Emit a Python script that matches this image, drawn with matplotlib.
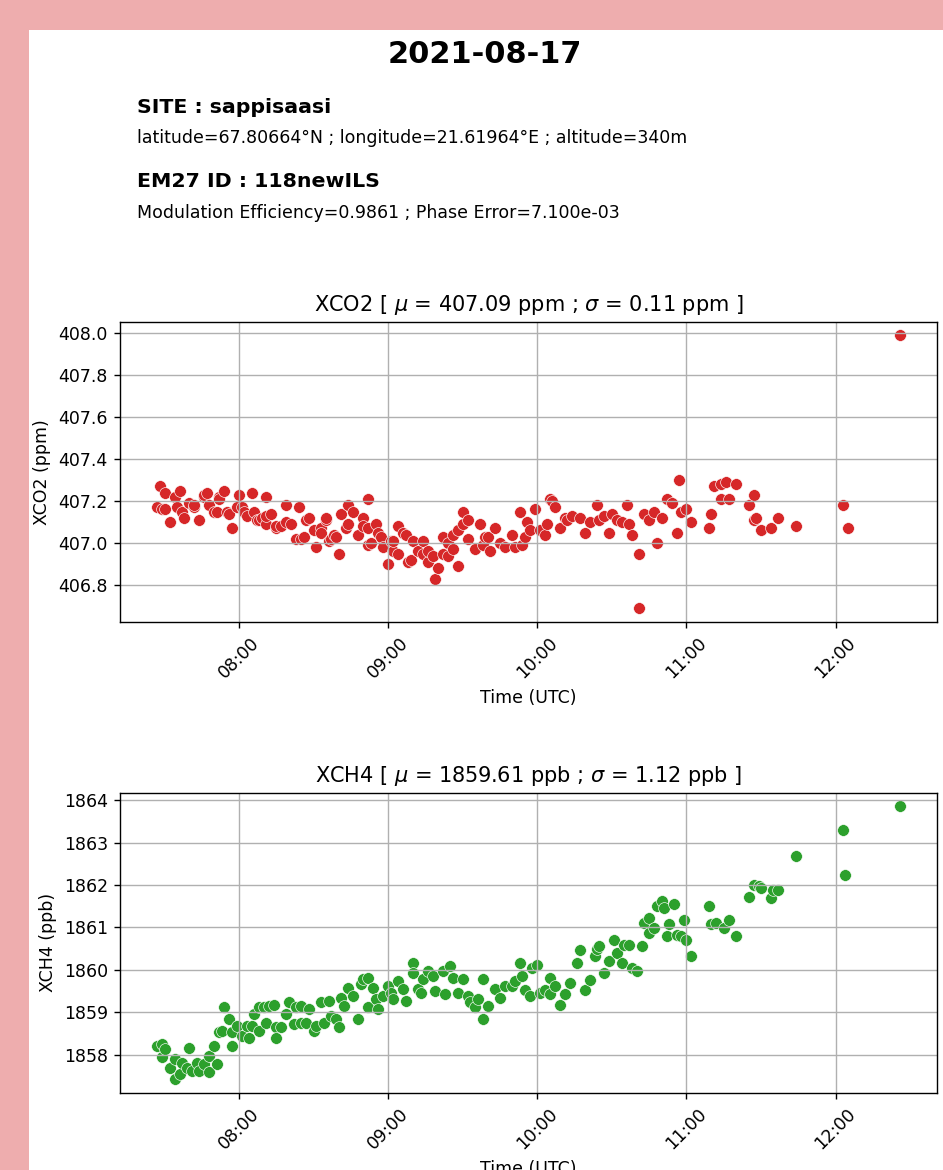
import matplotlib
matplotlib.use("Agg")
import matplotlib.dates as mdates
import matplotlib.pyplot as plt
import pandas as pd
from matplotlib.patches import Rectangle

DAY = "2021-08-17"
SITE = "sappisaasi"
SITE_INFO = "latitude=67.80664°N ; longitude=21.61964°E ; altitude=340m"
EM27_ID = "118newILS"
EM27_INFO = "Modulation Efficiency=0.9861 ; Phase Error=7.100e-03"

co2_title = r"XCO2 [ $\mu$ = 407.09 ppm ; $\sigma$ = 0.11 ppm ]"
ch4_title = r"XCH4 [ $\mu$ = 1859.61 ppb ; $\sigma$ = 1.12 ppb ]"

# XCO2 retrievals (UTC time, ppm)
co2_time = [
    "07:27", "07:28", "07:29", "07:30", "07:30", "07:32", "07:34", "07:35", "07:36", "07:37",
    "07:38", "07:40", "07:42", "07:42", "07:44", "07:46", "07:46", "07:47", "07:48", "07:50",
    "07:51", "07:52", "07:52", "07:54", "07:55", "07:56", "07:57", "07:59", "08:00", "08:01",
    "08:02", "08:03", "08:05", "08:06", "08:07", "08:08", "08:09", "08:11", "08:11", "08:11",
    "08:13", "08:15", "08:15", "08:17", "08:19", "08:19", "08:21", "08:23", "08:24", "08:25",
    "08:26", "08:27", "08:28", "08:30", "08:31", "08:33", "08:33", "08:35", "08:35", "08:36",
    "08:37", "08:38", "08:39", "08:40", "08:41", "08:43", "08:44", "08:44", "08:46", "08:48",
    "08:50", "08:50", "08:52", "08:52", "08:52", "08:53", "08:55", "08:56", "08:57", "08:58",
    "09:00", "09:01", "09:02", "09:02", "09:04", "09:04", "09:06", "09:07", "09:08", "09:09",
    "09:10", "09:12", "09:14", "09:14", "09:16", "09:16", "09:18", "09:19", "09:20", "09:22",
    "09:22", "09:24", "09:24", "09:26", "09:26", "09:28", "09:28", "09:30", "09:30", "09:32",
    "09:32", "09:35", "09:37", "09:38", "09:39", "09:40", "09:41", "09:43", "09:45", "09:47",
    "09:50", "09:51", "09:53", "09:54", "09:55", "09:56", "09:57", "09:59", "10:01", "10:03",
    "10:04", "10:05", "10:06", "10:07", "10:09", "10:11", "10:12", "10:14", "10:17", "10:19",
    "10:21", "10:24", "10:25", "10:27", "10:29", "10:30", "10:32", "10:34", "10:36", "10:37",
    "10:38", "10:41", "10:41", "10:43", "10:45", "10:47", "10:48", "10:50", "10:52", "10:54",
    "10:56", "10:57", "10:58", "11:00", "11:02", "11:09", "11:10", "11:11", "11:14", "11:14",
    "11:16", "11:17", "11:20", "11:25", "11:27", "11:27", "11:28", "11:30", "11:34", "11:37",
    "11:44", "12:03", "12:05", "12:26",
]
co2_val = [
    407.17, 407.27, 407.16, 407.16, 407.24, 407.10, 407.22, 407.17, 407.25, 407.15,
    407.12, 407.19, 407.17, 407.18, 407.11, 407.22, 407.23, 407.24, 407.18, 407.15,
    407.15, 407.22, 407.21, 407.25, 407.15, 407.14, 407.07, 407.17, 407.23, 407.17,
    407.15, 407.13, 407.24, 407.15, 407.11, 407.11, 407.12, 407.09, 407.22, 407.13,
    407.14, 407.07, 407.08, 407.08, 407.10, 407.18, 407.09, 407.02, 407.17, 407.02,
    407.03, 407.11, 407.12, 407.06, 406.98, 407.07, 407.05, 407.11, 407.12, 407.01,
    407.02, 407.04, 407.03, 406.95, 407.14, 407.07, 407.09, 407.18, 407.15, 407.04,
    407.12, 407.08, 407.21, 407.07, 406.99, 407.00, 407.09, 407.05, 407.03, 406.98,
    406.90, 407.01, 406.96, 407.01, 406.95, 407.08, 407.05, 407.04, 406.91, 406.92,
    407.01, 406.96, 406.95, 407.01, 406.91, 406.96, 406.94, 406.83, 406.88, 407.03,
    406.95, 406.94, 407.00, 407.04, 406.97, 407.06, 406.89, 407.09, 407.15, 407.11,
    407.02, 406.97, 407.09, 406.99, 407.03, 407.03, 406.96, 407.07, 407.00, 406.98,
    407.04, 406.98, 407.15, 406.99, 407.03, 407.10, 407.06, 407.16, 407.06, 407.04,
    407.09, 407.21, 407.20, 407.17, 407.07, 407.12, 407.11, 407.13, 407.12, 407.05,
    407.10, 407.18, 407.11, 407.13, 407.05, 407.14, 407.11, 407.10, 407.18, 407.09,
    407.04, 406.69, 406.95, 407.14, 407.11, 407.15, 407.00, 407.12, 407.21, 407.19,
    407.05, 407.30, 407.15, 407.16, 407.10, 407.07, 407.14, 407.27, 407.28, 407.21,
    407.29, 407.21, 407.28, 407.18, 407.23, 407.11, 407.12, 407.06, 407.07, 407.12,
    407.08, 407.18, 407.07, 407.99,
]

# XCH4 retrievals (UTC time, ppb)
ch4_time = [
    "07:27", "07:29", "07:29", "07:30", "07:32", "07:34", "07:34", "07:36", "07:37", "07:39",
    "07:40", "07:41", "07:43", "07:44", "07:46", "07:48", "07:48", "07:50", "07:51", "07:52",
    "07:53", "07:54", "07:56", "07:57", "07:57", "07:59", "08:01", "08:03", "08:04", "08:05",
    "08:06", "08:08", "08:08", "08:10", "08:11", "08:12", "08:14", "08:15", "08:15", "08:17",
    "08:19", "08:20", "08:22", "08:23", "08:25", "08:25", "08:27", "08:28", "08:30", "08:31",
    "08:33", "08:34", "08:36", "08:37", "08:39", "08:40", "08:41", "08:42", "08:44", "08:46",
    "08:48", "08:49", "08:50", "08:52", "08:52", "08:54", "08:55", "08:56", "08:58", "09:00",
    "09:01", "09:02", "09:04", "09:06", "09:07", "09:10", "09:10", "09:12", "09:13", "09:14",
    "09:16", "09:18", "09:19", "09:22", "09:23", "09:25", "09:26", "09:28", "09:30", "09:32",
    "09:33", "09:35", "09:36", "09:38", "09:38", "09:40", "09:43", "09:45", "09:47", "09:50",
    "09:51", "09:53", "09:54", "09:55", "09:57", "09:58", "10:00", "10:01", "10:03", "10:05",
    "10:05", "10:07", "10:09", "10:11", "10:13", "10:16", "10:17", "10:19", "10:21", "10:23",
    "10:24", "10:25", "10:27", "10:29", "10:31", "10:32", "10:34", "10:35", "10:37", "10:38",
    "10:40", "10:42", "10:43", "10:45", "10:45", "10:47", "10:48", "10:50", "10:51", "10:52",
    "10:53", "10:55", "10:56", "10:58", "10:59", "11:00", "11:02", "11:09", "11:10", "11:12",
    "11:15", "11:17", "11:20", "11:25", "11:27", "11:29", "11:30", "11:34", "11:35", "11:37",
    "11:44", "12:03", "12:04", "12:26",
]
ch4_val = [
    1858.19, 1858.24, 1857.93, 1858.13, 1857.69, 1857.89, 1857.42, 1857.54, 1857.81, 1857.69,
    1858.16, 1857.62, 1857.81, 1857.62, 1857.77, 1857.58, 1857.97, 1858.20, 1857.77, 1858.52,
    1858.56, 1859.13, 1858.83, 1858.52, 1858.19, 1858.68, 1858.44, 1858.68, 1858.40, 1858.68,
    1858.95, 1858.56, 1859.11, 1859.13, 1858.75, 1859.15, 1859.16, 1858.64, 1858.40, 1858.64,
    1858.95, 1859.23, 1858.71, 1859.11, 1858.75, 1859.15, 1858.75, 1859.07, 1858.56, 1858.68,
    1859.23, 1858.75, 1859.26, 1858.91, 1858.83, 1858.64, 1859.34, 1859.15, 1859.58, 1859.38,
    1858.83, 1859.66, 1859.78, 1859.81, 1859.11, 1859.58, 1859.30, 1859.07, 1859.38, 1859.62,
    1859.46, 1859.30, 1859.74, 1859.54, 1859.26, 1860.17, 1859.93, 1859.54, 1859.46, 1859.78,
    1859.97, 1859.85, 1859.50, 1859.97, 1859.42, 1860.09, 1859.81, 1859.46, 1859.78, 1859.38,
    1859.23, 1859.11, 1859.30, 1859.78, 1858.85, 1859.15, 1859.54, 1859.34, 1859.61, 1859.61,
    1859.73, 1860.15, 1859.85, 1859.53, 1859.39, 1860.04, 1860.12, 1859.45, 1859.53, 1859.81,
    1859.42, 1859.61, 1859.18, 1859.42, 1859.69, 1860.16, 1860.46, 1859.53, 1859.77, 1860.32,
    1860.48, 1860.56, 1859.93, 1860.20, 1860.71, 1860.40, 1860.16, 1860.59, 1860.59, 1860.04,
    1859.97, 1860.57, 1861.11, 1861.22, 1860.87, 1860.99, 1861.50, 1861.62, 1861.46, 1860.79,
    1861.07, 1861.56, 1860.83, 1860.79, 1861.18, 1860.71, 1860.33, 1861.51, 1861.07, 1861.11,
    1860.99, 1861.18, 1860.79, 1861.73, 1862.01, 1861.97, 1861.93, 1861.69, 1861.89, 1861.89,
    1862.68, 1863.29, 1862.25, 1863.86,
]

W, H, DPI = 943, 1170, 125


def px_axes(fig, left, top, right, bottom):
    # axes placed in pixel coordinates (origin top-left)
    return fig.add_axes([left / W, 1 - bottom / H, (right - left) / W, (bottom - top) / H])


def px_text(fig, x, y, s, **kw):
    fig.text(x / W, 1 - y / H, s, va="baseline", **kw)


def plot_panel(ax, times, vals, color, title, ylabel):
    t = pd.to_datetime([f"{DAY} {x}" for x in times])
    ax.scatter(t, vals, s=46, c=color, edgecolors="w", linewidths=0.35)
    ax.grid(True)
    ax.set_title(title)
    ax.set_ylabel(ylabel)
    ax.set_xlabel("Time (UTC)")
    ax.xaxis.set_major_locator(mdates.HourLocator())
    ax.xaxis.set_major_formatter(mdates.DateFormatter("%H:%M"))
    ax.tick_params(axis="x", labelrotation=45)


fig = plt.figure(figsize=(W / DPI, H / DPI), dpi=DPI, facecolor="#eeadae")
fig.add_artist(Rectangle((29 / W, 0), 1, 1 - 30 / H, transform=fig.transFigure,
                         facecolor="white", edgecolor="none", zorder=-10))

px_text(fig, 485, 63.3, DAY, ha="center", fontsize=17.5, weight="bold")
px_text(fig, 137, 113.3, f"SITE : {SITE}", fontsize=11.8, weight="bold")
px_text(fig, 137, 143.3, SITE_INFO, fontsize=10)
px_text(fig, 137, 187.3, f"EM27 ID : {EM27_ID}", fontsize=11.8, weight="bold")
px_text(fig, 137, 217.7, EM27_INFO, fontsize=10)

ax1 = px_axes(fig, 120, 321.7, 937.3, 621.7)
plot_panel(ax1, co2_time, co2_val, "tab:red", co2_title, "XCO2 (ppm)")

ax2 = px_axes(fig, 120, 792.7, 937.3, 1092.7)
plot_panel(ax2, ch4_time, ch4_val, "tab:green", ch4_title, "XCH4 (ppb)")

fig.savefig("out.png", dpi=DPI, facecolor=fig.get_facecolor())
plt.close(fig)
